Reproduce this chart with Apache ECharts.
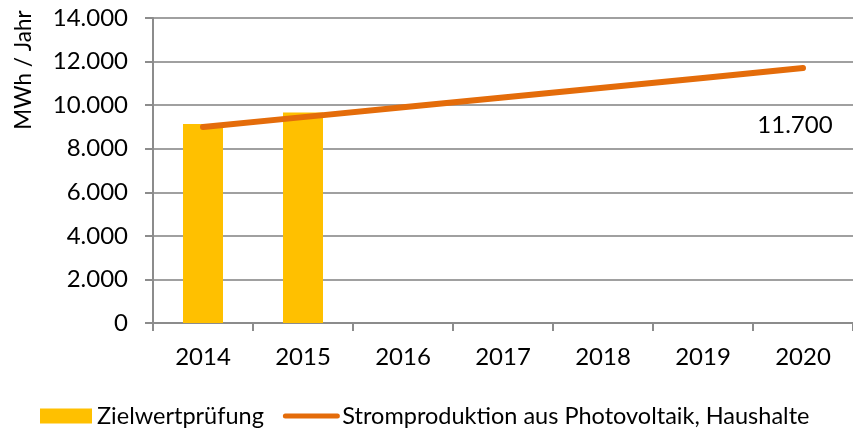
<!DOCTYPE html>
<html>
<head>
<meta charset="utf-8">
<script src="https://cdn.jsdelivr.net/npm/echarts@6/dist/echarts.min.js"></script>
<style>
html,body{margin:0;padding:0;background:#fff;}
#chart{width:853px;height:429px;}
</style>
</head>
<body>
<div id="chart"></div>
<script>
const categories = ['2014','2015','2016','2017','2018','2019','2020'];
const barName = 'Zielwertprüfung';
const barValues = [9130, 9660, null, null, null, null, null];
const lineName = 'Stromproduktion aus Photovoltaik, Haushalte';
const lineValues = [9000, 9450, 9900, 10350, 10800, 11250, 11700];
const labelIndex = 6;
const yTitle = 'MWh / Jahr';

const FONT = 'Lato';
const fmt = v => String(v).replace(/\B(?=(\d{3})+(?!\d))/g, '.');

const chart = echarts.init(document.getElementById('chart'), null, {renderer: 'canvas'});
chart.setOption({
  animation: false,
  textStyle: {fontFamily: FONT},
  grid: {left: 153, top: 18, bottom: 106, right: -5, containLabel: false},
  legend: {
    left: 35, top: 399, padding: 5,
    itemWidth: 52, itemHeight: 15, itemGap: 19,
    textStyle: {fontFamily: FONT, fontSize: 23.5, color: '#000'},
    data: [
      {name: barName, icon: 'rect'},
      {name: lineName, itemStyle: {opacity: 0}, lineStyle: {width: 5}}
    ]
  },
  graphic: [{
    type: 'text',
    x: 24, y: 70,
    rotation: Math.PI / 2,
    style: {text: yTitle, fontFamily: FONT, fontSize: 22.5, fill: '#000', align: 'center', verticalAlign: 'middle'}
  }],
  xAxis: {
    type: 'category',
    data: categories,
    boundaryGap: true,
    axisLine: {lineStyle: {color: '#8c8c8c', width: 2}},
    axisTick: {show: true, length: 8, lineStyle: {color: '#8c8c8c', width: 2}},
    axisLabel: {fontFamily: FONT, fontSize: 24, color: '#000', margin: 22}
  },
  yAxis: {
    type: 'value',
    min: 0, max: 14000, interval: 2000,
    axisLine: {show: true, lineStyle: {color: '#8c8c8c', width: 2}},
    axisTick: {show: true, length: 8, lineStyle: {color: '#8c8c8c', width: 2}},
    splitLine: {lineStyle: {color: '#a0a0a0', width: 2}},
    axisLabel: {fontFamily: FONT, fontSize: 24, color: '#000', margin: 25, formatter: v => fmt(v)}
  },
  series: [
    {
      name: barName,
      type: 'bar',
      data: barValues,
      barWidth: 40,
      itemStyle: {color: '#FFC000'}
    },
    {
      name: lineName,
      type: 'line',
      data: lineValues.map((v, i) => i === labelIndex ? {value: v, label: {show: true}} : v),
      symbol: 'circle',
      symbolSize: 0.1,
      showSymbol: true,
      itemStyle: {color: '#E46C0A'},
      lineStyle: {color: '#E46C0A', width: 6, cap: 'round'},
      label: {
        show: false,
        position: 'inside',
        offset: [-8, 57],
        fontFamily: FONT, fontSize: 24, color: '#000',
        formatter: p => fmt(p.value)
      }
    }
  ]
});
</script>
</body>
</html>
